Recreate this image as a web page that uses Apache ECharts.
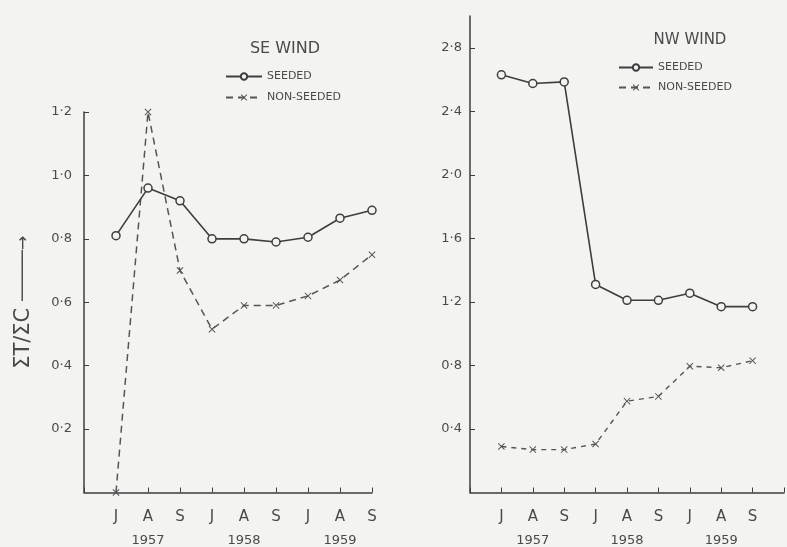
<!DOCTYPE html>
<html>
<head>
<meta charset="utf-8">
<script src="https://cdn.jsdelivr.net/npm/echarts@6/dist/echarts.min.js"></script>
<style>
  html, body { margin: 0; padding: 0; background: #f3f3f1; }
  #main { width: 787px; height: 547px; }
</style>
</head>
<body>
<div id="main"></div>
<script>
// months (Jul, Aug, Sep) for each season
const months = ['J', 'A', 'S', 'J', 'A', 'S', 'J', 'A', 'S'];
const years = ['1957', '1958', '1959'];

// SE wind, ratio sum T / sum C
const seSeeded = [0.81, 0.96, 0.92, 0.80, 0.80, 0.79, 0.805, 0.865, 0.89];
const seNonSeeded = [0.0, 1.2, 0.70, 0.515, 0.59, 0.59, 0.62, 0.67, 0.75];

// NW wind
const nwSeeded = [2.63, 2.575, 2.585, 1.31, 1.21, 1.21, 1.255, 1.17, 1.17];
const nwNonSeeded = [0.29, 0.27, 0.27, 0.305, 0.575, 0.605, 0.795, 0.785, 0.83];

const seTicks = [0.2, 0.4, 0.6, 0.8, 1.0, 1.2];
const nwTicks = [0.4, 0.8, 1.2, 1.6, 2.0, 2.4, 2.8];

const ink = '#3e3e3e';
const textInk = '#4a4a4a';
const bg = '#f3f3f1';
const font = 'DejaVu Sans';

const crossPath = 'path://M0,1L1,0L5,4L9,0L10,1L6,5L10,9L9,10L5,6L1,10L0,9L4,5Z';

// empty slot before J (and after S on the right panel)
const seCats = [''].concat(months);
const nwCats = [''].concat(months, ['']);

const fmtNum = v => v.toFixed(1).replace('.', '·');

function monthLabel(val, idx) {
  if (!val) return '';
  const k = idx - 1;
  if (k % 3 === 1) return '{m|' + val + '}\n{y|' + years[(k - 1) / 3] + '}';
  return '{m|' + val + '}';
}

function xAxisFor(gridIndex, cats) {
  return {
    type: 'category',
    gridIndex: gridIndex,
    data: cats,
    boundaryGap: false,
    axisLine: { lineStyle: { color: ink, width: 1.5 } },
    axisTick: { inside: true, length: 5, interval: 0, lineStyle: { color: ink } },
    axisLabel: {
      interval: 0,
      margin: 13,
      formatter: monthLabel,
      rich: {
        m: { fontFamily: font, fontSize: 15, color: textInk, lineHeight: 24 },
        y: { fontFamily: font, fontSize: 13, color: textInk, lineHeight: 22 }
      }
    },
    splitLine: { show: false }
  };
}

function yAxisFor(gridIndex, max, interval, ticks, margin, extra) {
  return Object.assign({
    type: 'value',
    gridIndex: gridIndex,
    min: 0,
    max: max,
    interval: interval,
    axisLine: { show: true, lineStyle: { color: ink, width: 1.5 } },
    axisTick: { show: true, inside: true, length: 5, customValues: ticks, lineStyle: { color: ink } },
    axisLabel: {
      customValues: ticks,
      margin: margin,
      fontFamily: font,
      fontSize: 13,
      color: textInk,
      formatter: fmtNum
    },
    splitLine: { show: false }
  }, extra || {});
}

function pad(arr) {
  return ['-'].concat(arr);
}

const seededStyle = {
  type: 'line',
  symbol: 'circle',
  symbolSize: 8,
  lineStyle: { color: ink, width: 1.6 },
  itemStyle: { color: bg, borderColor: ink, borderWidth: 1.5 }
};
const nonSeededStyle = {
  type: 'line',
  symbol: crossPath,
  symbolSize: 7,
  itemStyle: { color: '#555', borderWidth: 0 }
};

const chart = echarts.init(document.getElementById('main'), null, { renderer: 'canvas' });

const option = {
  backgroundColor: bg,
  animation: false,
  title: [
    {
      text: 'SE WIND',
      left: 280, top: 36, textAlign: 'center',
      textStyle: { fontFamily: font, fontSize: 16, fontWeight: 'normal', color: textInk }
    },
    {
      text: 'NW WIND',
      left: 685, top: 28, textAlign: 'center',
      textStyle: { fontFamily: font, fontSize: 15, fontWeight: 'normal', color: textInk }
    }
  ],
  legend: [
    {
      orient: 'vertical', left: 220, top: 66,
      itemWidth: 36, itemHeight: 8, itemGap: 10,
      data: ['SEEDED', 'NON-SEEDED'],
      textStyle: { fontFamily: font, fontSize: 11, color: textInk },
      selectedMode: false
    },
    {
      orient: 'vertical', left: 613, top: 57,
      itemWidth: 34, itemHeight: 8, itemGap: 9,
      data: ['SEEDED', 'NON-SEEDED'],
      textStyle: { fontFamily: font, fontSize: 11, color: textInk },
      selectedMode: false
    }
  ],
  grid: [
    { left: 84, top: 112, width: 288, height: 384 },
    { left: 470, top: 16, width: 320, height: 480 }
  ],
  xAxis: [xAxisFor(0, seCats), xAxisFor(1, nwCats)],
  yAxis: [
    yAxisFor(0, 1.2, 0.2, seTicks, 12, {
      name: '{s|ΣT/ΣC}  {a|─────→}',
      nameLocation: 'middle',
      nameRotate: 90,
      nameGap: 50,
      nameTextStyle: {
        rich: {
          s: { fontFamily: font, fontSize: 21, color: textInk },
          a: { fontFamily: font, fontSize: 17, color: textInk }
        }
      }
    }),
    yAxisFor(1, 3.0, 0.4, nwTicks, 8)
  ],
  series: [
    Object.assign({}, seededStyle, {
      name: 'SEEDED', xAxisIndex: 0, yAxisIndex: 0, data: pad(seSeeded), z: 3
    }),
    Object.assign({}, nonSeededStyle, {
      name: 'NON-SEEDED', xAxisIndex: 0, yAxisIndex: 0, data: pad(seNonSeeded), z: 2,
      lineStyle: { color: '#555', width: 1.5, type: [7, 5] }
    }),
    Object.assign({}, seededStyle, {
      name: 'SEEDED', xAxisIndex: 1, yAxisIndex: 1, data: pad(nwSeeded), z: 3
    }),
    Object.assign({}, nonSeededStyle, {
      name: 'NON-SEEDED', xAxisIndex: 1, yAxisIndex: 1, data: pad(nwNonSeeded), z: 2,
      lineStyle: { color: '#555', width: 1.4, type: [5, 5] }
    })
  ]
};

chart.setOption(option);
window.onresize = () => {
  chart.resize();
};
</script>
</body>
</html>
